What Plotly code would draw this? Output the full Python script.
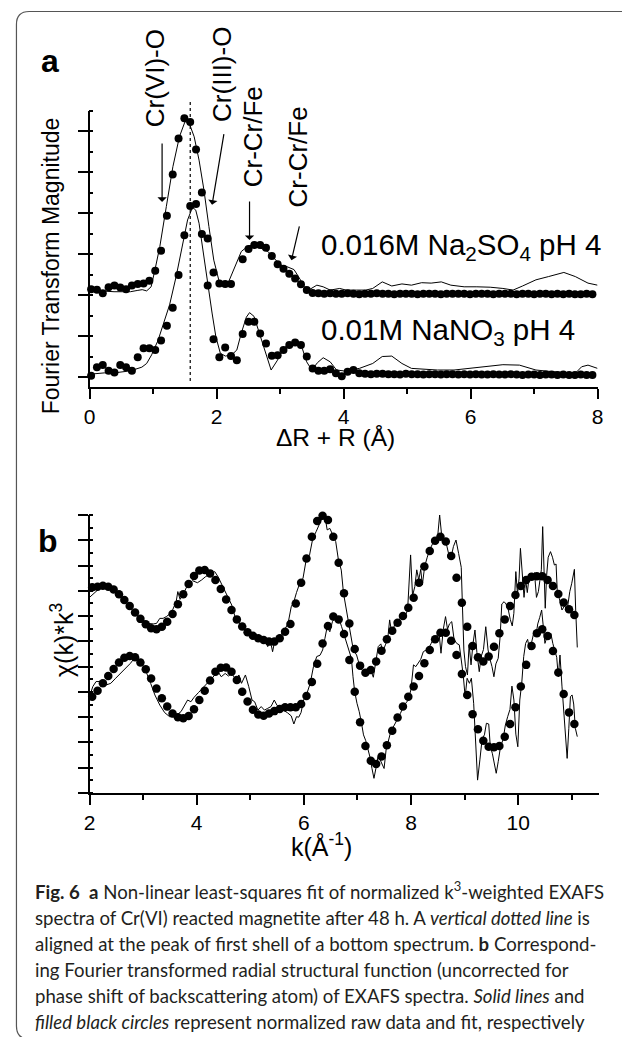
import plotly.graph_objects as go

# the page body keeps its default 8px margin, so the figure is drawn 8px in
# from the window corner; all positions below are window pixels
OFF = 8
W, H = 630 - OFF, 1037 - OFF

# ---- panel a: FT magnitude (arbitrary units, one major y tick per unit) ----
R_FIT_START = 0.025
R_FIT_STEP = 0.0918
FIT_SO4 = [
    2.14, 2.13, 2.04, 2.19, 2.23, 2.18, 2.14, 2.23, 2.27, 2.28,
    2.35, 2.59, 3.08, 3.93, 4.94, 5.82, 6.31, 6.22, 5.55, 4.50,
    3.38, 2.55, 2.28, 2.27, 2.27, None, 2.87, 3.12, 3.22, 3.22,
    3.15, 2.95, 2.75, 2.64, 2.52, 2.40, 2.26, 2.12, 2.05, 2.04,
    2.03, 2.04, 2.03, 2.03, 2.04, 2.03, 2.02, 2.03, 2.03, 2.04,
    2.03, 2.03, 2.02, 2.03, 2.03, 2.03, 2.02, 2.03, 2.03, 2.03,
    2.02, 2.03, 2.03, 2.03, 2.03, 2.02, 2.03, 2.03, 2.03, 2.02,
    2.03, 2.03, 2.03, 2.02, 2.03, 2.03, 2.02, 2.03, 2.03, 2.02,
    2.03, 2.02, 2.03, 2.02, 2.02, 2.03, 2.02, 2.02,
]
FIT_NO3 = [
    0.03, 0.24, 0.29, 0.15, 0.11, 0.29, 0.24, 0.15, 0.48, 0.70,
    0.70, 0.66, 0.89, 1.25, 1.69, 2.49, 3.46, 4.17, 4.22, 3.49,
    2.23, 0.92, 0.48, 0.72, 0.51, 0.41, 1.05, 1.35, 1.35, 1.06,
    0.82, 0.52, 0.53, 0.66, 0.78, 0.84, 0.78, 0.50, 0.21, 0.15,
    0.15, 0.19, 0.09, 0.02, 0.13, 0.17, 0.09, 0.08, 0.07, 0.08,
    0.08, 0.07, 0.07, 0.06, 0.08, 0.07, 0.07, 0.06, 0.07, 0.07,
    0.06, 0.07, 0.07, 0.06, 0.07, 0.06, 0.07, 0.06, 0.06, 0.07,
    0.06, 0.06, 0.07, 0.06, 0.05, 0.06, 0.06, 0.05, 0.06, 0.06,
    0.05, 0.06, 0.05, 0.05, 0.06, 0.05, 0.05, 0.05,
]
RAW_SO4 = [
    (0.026, 2.16), (0.18, 2.10), (0.386, 2.08), (0.55, 2.07), (0.644, 2.08),
    (0.75, 2.11), (0.83, 2.13), (0.9, 2.10), (0.97, 2.20), (1.03, 2.61),
    (1.107, 3.18), (1.21, 4.16), (1.313, 5.13), (1.416, 5.86), (1.504, 6.23),
    (1.57, 6.19), (1.648, 5.86), (1.725, 5.29), (1.802, 4.56), (1.88, 3.67),
    (1.957, 2.85), (2.04, 2.34), (2.11, 2.24), (2.19, 2.32), (2.29, 2.69),
    (2.39, 3.06), (2.50, 3.20), (2.60, 3.22), (2.70, 3.14), (2.81, 3.06),
    (2.91, 2.89), (3.01, 2.73), (3.11, 2.69), (3.22, 2.62), (3.29, 2.45),
    (3.37, 2.24), (3.45, 2.12), (3.50, 2.16), (3.58, 2.24), (3.68, 2.20),
    (3.79, 2.12), (3.94, 2.16), (4.04, 2.12), (4.20, 2.12), (4.35, 2.12),
    (4.46, 2.16), (4.61, 2.32), (4.76, 2.22), (4.92, 2.27), (5.07, 2.24),
    (5.23, 2.30), (5.38, 2.29), (5.54, 2.32), (5.69, 2.24), (5.90, 2.20),
    (6.10, 2.20), (6.31, 2.19), (6.51, 2.16), (6.67, 2.12), (6.82, 2.22),
    (7.03, 2.37), (7.23, 2.45), (7.47, 2.55), (7.65, 2.45), (7.85, 2.29),
    (8.00, 2.24),
]
RAW_NO3 = [
    (0.015, 0.07), (0.232, 0.10), (0.438, 0.11), (0.644, 0.15), (0.824, 0.24),
    (0.9, 0.33), (0.978, 0.54), (1.081, 0.90), (1.158, 1.27), (1.261, 1.76),
    (1.364, 2.45), (1.467, 3.22), (1.544, 3.83), (1.622, 4.14), (1.673, 4.07),
    (1.725, 3.75), (1.776, 3.18), (1.853, 2.37), (1.93, 1.56), (1.99, 0.98),
    (2.06, 0.58), (2.14, 0.51), (2.24, 0.54), (2.32, 0.66), (2.39, 1.07),
    (2.47, 1.46), (2.52, 1.57), (2.59, 1.48), (2.68, 1.06), (2.78, 0.57),
    (2.86, 0.17), (2.96, 0.41), (3.06, 0.70), (3.17, 0.84), (3.26, 0.86),
    (3.35, 0.70), (3.42, 0.37), (3.50, 0.17), (3.59, 0.35), (3.68, 0.47),
    (3.79, 0.37), (3.89, 0.17), (4.00, 0.15), (4.10, 0.17), (4.25, 0.21),
    (4.46, 0.33), (4.61, 0.50), (4.76, 0.51), (4.92, 0.33), (5.07, 0.21),
    (5.28, 0.19), (5.48, 0.17), (5.74, 0.17), (6.00, 0.21), (6.25, 0.25),
    (6.51, 0.30), (6.77, 0.29), (7.03, 0.17), (7.29, 0.13), (7.49, 0.11),
    (7.65, 0.09), (7.75, 0.25), (7.85, 0.29), (8.00, 0.21),
]
PEAK_LINE_R = 1.586

# ---- panel b: chi(k)*k^3 (arbitrary units, one major y tick per unit) ----
K_FIT_START = 2.05
K_FIT_STEP = 0.1
FIT_TOP = [
    8.14, 8.16, 8.20, 8.16, 8.05, 7.86, 7.64, 7.40, 7.14, 6.89,
    6.68, 6.52, 6.48, 6.58, 6.78, 7.08, 7.47, 7.86, 8.27, 8.59,
    8.80, 8.82, 8.69, 8.43, 8.07, 7.66, 7.24, 6.87, 6.59, 6.36,
    6.22, 6.12, 6.05, 5.99, 5.99, 6.12, 6.38, 6.69, 7.50, 8.32,
    9.28, 10.14, 10.76, 10.97, 10.80, 10.14, 9.11, 7.90, 6.71, 5.70,
    5.04, 4.76, 4.87, 5.20, 5.63, 6.08, 6.42, 6.74, 7.00, 7.33,
    7.73, 8.32, 8.96, 9.58, 9.98, 10.14, 9.95, 9.38, 8.52, 7.53,
    6.58, 5.82, 5.37, 5.20, 5.40, 5.79, 6.32, 6.87, 7.40, 7.83,
    8.19, 8.43, 8.56, 8.58, 8.58, 8.43, 8.19, 7.87, 7.54, 7.27,
    7.04,
]
FIT_BOT = [
    3.81, 4.05, 4.34, 4.63, 4.91, 5.16, 5.35, 5.42, 5.37, 5.16,
    4.90, 4.53, 4.13, 3.75, 3.42, 3.15, 3.00, 2.96, 3.05, 3.31,
    3.68, 4.05, 4.45, 4.80, 4.96, 4.97, 4.80, 4.47, 4.01, 3.62,
    3.29, 3.11, 3.06, 3.15, 3.24, 3.32, 3.39, 3.39, 3.39, 3.52,
    3.84, 4.39, 5.11, 5.92, 6.61, 6.98, 6.87, 6.29, 5.26, 4.01,
    2.80, 1.86, 1.28, 1.15, 1.44, 1.89, 2.46, 2.99, 3.42, 3.81,
    4.21, 4.63, 5.13, 5.66, 6.08, 6.34, 6.34, 6.02, 5.46, 4.71,
    3.88, 3.12, 2.52, 2.07, 1.83, 1.81, 1.86, 2.23, 2.73, 3.39,
    4.21, 5.07, 5.82, 6.32, 6.48, 6.21, 5.62, 4.77, 3.92, 3.19,
    2.73,
]
RAW_TOP = [
    (2.0, 7.74), (2.092, 7.93), (2.183, 8.09), (2.305, 8.17), (2.427, 8.10),
    (2.549, 7.93), (2.671, 7.57), (2.763, 7.31), (2.854, 7.08), (2.976, 6.87),
    (3.098, 6.71), (3.19, 6.69), (3.251, 6.71), (3.312, 6.91), (3.373, 6.91),
    (3.434, 6.98), (3.495, 7.08), (3.556, 7.27), (3.617, 7.57), (3.648, 7.97),
    (3.69, 7.66), (3.751, 7.87), (3.83, 8.23), (3.922, 8.40), (4.014, 8.32),
    (4.093, 8.43), (4.166, 8.56), (4.258, 8.67), (4.337, 8.76), (4.398, 8.56),
    (4.471, 8.23), (4.563, 7.83), (4.654, 7.44), (4.715, 6.98), (4.807, 6.69),
    (4.899, 6.48), (4.99, 6.32), (5.082, 6.21), (5.173, 6.12), (5.234, 5.90),
    (5.277, 6.08), (5.326, 5.79), (5.375, 6.03), (5.417, 5.59), (5.46, 6.05),
    (5.521, 6.16), (5.582, 6.29), (5.643, 6.48), (5.704, 6.69), (5.765, 7.37),
    (5.814, 7.57), (5.863, 7.93), (5.924, 8.30), (5.985, 8.50), (6.046, 9.25),
    (6.107, 9.42), (6.168, 10.08), (6.229, 10.34), (6.29, 10.67), (6.351, 10.93),
    (6.394, 10.96), (6.436, 10.41), (6.485, 10.47), (6.534, 10.25), (6.595, 9.95),
    (6.644, 9.25), (6.699, 8.82), (6.741, 7.90), (6.802, 7.11), (6.863, 6.45),
    (6.924, 5.66), (6.985, 5.46), (7.046, 5.00), (7.108, 4.80), (7.156, 4.74),
    (7.205, 4.93), (7.248, 4.87), (7.297, 4.58), (7.339, 5.13), (7.388, 5.79),
    (7.437, 5.90), (7.474, 5.59), (7.522, 5.86), (7.565, 6.08), (7.602, 6.85),
    (7.644, 6.29), (7.693, 6.65), (7.742, 6.69), (7.797, 6.91), (7.846, 7.11),
    (7.889, 6.98), (7.937, 7.24), (7.993, 9.42), (8.029, 7.80), (8.072, 8.17),
    (8.108, 8.83), (8.145, 8.43), (8.182, 8.85), (8.212, 8.23), (8.255, 8.96),
    (8.304, 9.33), (8.352, 9.64), (8.401, 9.85), (8.45, 10.01), (8.499, 10.17),
    (8.535, 11.0), (8.572, 10.21), (8.621, 10.01), (8.67, 9.77), (8.712, 9.38),
    (8.755, 9.38), (8.792, 9.75), (8.84, 10.01), (8.889, 9.48), (8.938, 8.93),
    (8.963, 7.24), (8.987, 5.66), (9.018, 5.00), (9.054, 4.67), (9.085, 5.86),
    (9.121, 5.07), (9.158, 5.92), (9.194, 6.45), (9.231, 5.55), (9.274, 4.80),
    (9.31, 5.40), (9.353, 5.68), (9.396, 6.58), (9.439, 5.66), (9.475, 5.29),
    (9.512, 5.00), (9.548, 4.60), (9.585, 5.11), (9.628, 5.33), (9.664, 6.19),
    (9.695, 7.48), (9.738, 7.57), (9.774, 7.48), (9.817, 7.24), (9.853, 6.87),
    (9.89, 6.61), (9.92, 7.11), (9.957, 8.76), (9.988, 7.87), (10.018, 8.50),
    (10.043, 9.68), (10.073, 8.76), (10.11, 7.74), (10.14, 8.43), (10.171, 7.93),
    (10.213, 8.69), (10.268, 8.43), (10.305, 8.72), (10.342, 7.74), (10.378, 7.97),
    (10.403, 8.36), (10.433, 8.83), (10.458, 10.54), (10.488, 8.83), (10.506, 7.31),
    (10.531, 8.59), (10.561, 9.33), (10.604, 9.55), (10.641, 9.33), (10.677, 9.02),
    (10.708, 9.06), (10.732, 7.90), (10.769, 7.70), (10.818, 7.24), (10.867, 7.40),
    (10.915, 7.24), (10.964, 7.97), (11.001, 8.30), (11.05, 8.85), (11.074, 7.24),
    (11.104, 5.76),
]
RAW_BOT = [
    (2.0, 3.81), (2.061, 4.21), (2.122, 4.41), (2.214, 4.41), (2.305, 4.27),
    (2.397, 4.34), (2.488, 4.54), (2.58, 4.73), (2.671, 4.93), (2.763, 5.13),
    (2.836, 5.33), (2.897, 5.37), (2.958, 5.20), (3.056, 4.80), (3.141, 4.34),
    (3.22, 3.88), (3.312, 3.48), (3.403, 3.18), (3.495, 3.02), (3.587, 3.02),
    (3.708, 3.22), (3.77, 3.48), (3.831, 3.68), (3.892, 3.61), (3.953, 3.79),
    (4.032, 3.97), (4.105, 4.14), (4.178, 4.31), (4.258, 4.47), (4.337, 4.67),
    (4.398, 4.80), (4.459, 4.60), (4.532, 4.73), (4.593, 4.63), (4.654, 4.73),
    (4.727, 4.50), (4.789, 4.67), (4.837, 4.34), (4.91, 4.67), (4.972, 4.21),
    (5.033, 3.68), (5.082, 3.61), (5.143, 3.28), (5.204, 3.42), (5.265, 3.28),
    (5.326, 3.35), (5.387, 3.42), (5.448, 3.68), (5.497, 3.48), (5.558, 3.35),
    (5.619, 3.28), (5.692, 3.18), (5.765, 3.05), (5.814, 2.73), (5.863, 3.02),
    (5.905, 3.00), (5.948, 3.18), (5.997, 3.68), (6.058, 3.94), (6.119, 4.34),
    (6.18, 5.00), (6.241, 5.40), (6.302, 5.45), (6.351, 5.66), (6.394, 6.12),
    (6.436, 6.58), (6.485, 6.38), (6.534, 6.78), (6.595, 6.98), (6.656, 6.91),
    (6.705, 6.58), (6.754, 6.25), (6.802, 5.92), (6.851, 5.59), (6.888, 5.33),
    (6.918, 4.60), (6.949, 4.01), (6.992, 3.55), (7.034, 3.22), (7.077, 2.76),
    (7.114, 2.30), (7.156, 2.07), (7.199, 1.77), (7.236, 1.41), (7.272, 0.97),
    (7.309, 0.58), (7.345, 0.97), (7.382, 1.41), (7.425, 1.31), (7.461, 1.17),
    (7.498, 0.97), (7.535, 1.70), (7.571, 2.03), (7.614, 2.36), (7.657, 2.56),
    (7.705, 2.78), (7.754, 2.95), (7.803, 3.15), (7.852, 3.39), (7.901, 3.55),
    (7.95, 3.68), (7.998, 4.08), (8.047, 5.07), (8.09, 5.00), (8.133, 5.16),
    (8.182, 5.29), (8.23, 5.59), (8.279, 5.66), (8.328, 5.72), (8.377, 5.92),
    (8.426, 6.12), (8.474, 6.19), (8.523, 6.35), (8.56, 5.53), (8.603, 6.48),
    (8.645, 6.98), (8.682, 6.48), (8.718, 6.69), (8.761, 6.78), (8.804, 6.08),
    (8.853, 5.92), (8.902, 5.86), (8.938, 5.33), (8.975, 4.67), (9.011, 3.81),
    (9.048, 4.54), (9.091, 4.34), (9.127, 4.54), (9.17, 3.55), (9.207, 2.23),
    (9.243, 0.51), (9.286, 1.31), (9.329, 2.16), (9.371, 2.30), (9.408, 2.76),
    (9.451, 2.73), (9.481, 1.83), (9.518, 1.57), (9.555, 1.11), (9.591, 0.78),
    (9.628, 1.24), (9.671, 1.83), (9.719, 2.12), (9.762, 2.69), (9.805, 3.02),
    (9.848, 3.31), (9.884, 4.23), (9.921, 3.68), (9.957, 2.33), (9.994, 1.83),
    (10.031, 3.68), (10.067, 4.34), (10.104, 5.40), (10.14, 5.92), (10.177, 6.08),
    (10.213, 5.66), (10.25, 5.95), (10.287, 6.29), (10.33, 6.19), (10.366, 6.69),
    (10.403, 6.95), (10.439, 7.24), (10.47, 6.58), (10.5, 5.92), (10.537, 6.16),
    (10.574, 6.25), (10.61, 6.32), (10.647, 5.92), (10.683, 5.63), (10.72, 5.37),
    (10.75, 4.60), (10.781, 5.46), (10.818, 4.23), (10.854, 3.28), (10.885, 2.36),
    (10.915, 1.37), (10.946, 2.56), (10.976, 3.81), (11.007, 3.88), (11.037, 3.52),
    (11.068, 2.56), (11.104, 2.23),
]

CAPTION = [
    "<b>Fig. 6</b>\u2002<b>a</b> Non-linear least-squares fit of normalized k<sup>3</sup>-weighted EXAFS",
    "spectra of Cr(VI) reacted magnetite after 48 h. A <i>vertical dotted line</i> is",
    "aligned at the peak of first shell of a bottom spectrum. <b>b</b> Correspond-",
    "ing Fourier transformed radial structural function (uncorrected for",
    "phase shift of backscattering atom) of EXAFS spectra. <i>Solid lines</i> and",
    "<i>filled black circles</i> represent normalized raw data and fit, respectively",
]

FONT = "Liberation Sans"


def px(x):
    return (x - OFF) / W


def py(y):
    return 1 - (y - OFF) / H


def unzip(pairs):
    return [p[0] for p in pairs], [p[1] for p in pairs]


r_grid = [R_FIT_START + R_FIT_STEP * i for i in range(len(FIT_SO4))]
k_grid = [K_FIT_START + K_FIT_STEP * i for i in range(len(FIT_TOP))]

fig = go.Figure()

line_style = dict(color="black", width=1)
for pairs, ax in [(RAW_SO4, ("x", "y")), (RAW_NO3, ("x", "y")),
                  (RAW_TOP, ("x2", "y2")), (RAW_BOT, ("x2", "y2"))]:
    xs, ys = unzip(pairs)
    fig.add_trace(go.Scatter(x=xs, y=ys, mode="lines", line=line_style,
                             xaxis=ax[0], yaxis=ax[1], showlegend=False))

for xs, ys, ax, size in [(r_grid, FIT_SO4, ("x", "y"), 8),
                         (r_grid, FIT_NO3, ("x", "y"), 8),
                         (k_grid, FIT_TOP, ("x2", "y2"), 8.5),
                         (k_grid, FIT_BOT, ("x2", "y2"), 8.5)]:
    fig.add_trace(go.Scatter(x=xs, y=ys, mode="markers",
                             marker=dict(color="black", size=size),
                             cliponaxis=False,
                             xaxis=ax[0], yaxis=ax[1], showlegend=False))

axis_base = dict(showline=True, linecolor="black", linewidth=1.5,
                 ticks="outside", ticklen=10, tickwidth=1.5, tickcolor="black",
                 showgrid=False, zeroline=False,
                 tickfont=dict(family=FONT, size=21, color="black"))
y_minor = dict(ticks="inside", ticklen=4, tickwidth=1.5, tickcolor="black")
x_minor = dict(ticks="outside", ticklen=5, tickwidth=1.5, tickcolor="black", dtick=1)

fig.update_layout(
    width=W, height=H,
    margin=dict(l=0, r=0, t=0, b=0),
    paper_bgcolor="white", plot_bgcolor="white",
    font=dict(family=FONT, color="black"),
    xaxis=dict(axis_base, domain=[px(85), px(603)], anchor="y",
               range=[0, 8], tick0=0, dtick=2, minor=x_minor),
    yaxis=dict(axis_base, domain=[py(387), py(110.5)], anchor="x",
               range=[-0.244, 6.5], tick0=0, dtick=1, showticklabels=False,
               minor=dict(y_minor, dtick=0.5)),
    xaxis2=dict(axis_base, domain=[px(85), px(604)], anchor="y2",
                range=[2, 11.5], tick0=2, dtick=2, minor=x_minor),
    yaxis2=dict(axis_base, domain=[py(793), py(515)], anchor="x2",
                range=[0, 11], tick0=0, dtick=1, showticklabels=False,
                minor=dict(y_minor, dtick=0.5)),
)

shapes = [
    # dotted line through the first-shell peak of the bottom spectrum
    dict(type="line", xref="x domain", yref="paper",
         x0=PEAK_LINE_R / 8, x1=PEAK_LINE_R / 8, y0=py(381), y1=py(100),
         line=dict(color="black", width=1.2, dash="dot")),
]
L, T, R, B, rad = 10.5, 11.5, 660, 1039, 13
shapes.append(dict(
    type="path", xref="paper", yref="paper",
    path=(f"M {px(L)},{py(T + rad)} Q {px(L)},{py(T)} {px(L + rad)},{py(T)} "
          f"L {px(R)},{py(T)} L {px(R)},{py(B)} L {px(L + rad)},{py(B)} "
          f"Q {px(L)},{py(B)} {px(L)},{py(B - rad)} Z"),
    line=dict(color="#555555", width=1.2)))
fig.update_layout(shapes=shapes)

ann = []


def text(t, x, y, size, xanchor="center", yanchor="middle", angle=0, **kw):
    ann.append(dict(text=t, x=px(x), y=py(y), xref="paper", yref="paper",
                    showarrow=False, xanchor=xanchor, yanchor=yanchor,
                    textangle=angle, font=dict(family=kw.pop("family", FONT),
                                               size=size, color=kw.pop("color", "black")),
                    align=kw.pop("align", "center"), **kw))


def arrow(x_tip, y_tip, x_tail, y_tail):
    ann.append(dict(text="", x=x_tip, y=y_tip, ax=x_tail, ay=y_tail,
                    xref="x", yref="y", axref="x", ayref="y",
                    showarrow=True, arrowhead=1, arrowsize=1.3, arrowwidth=1.2,
                    arrowcolor="black"))


# panel letters
text("<b>a</b>", 44.5, 41, 32, yanchor="top")
text("<b>b</b>", 43, 521, 32, yanchor="top")

# peak labels (rotated) and arrows
text("Cr(VI)-O", 152, 78, 26, angle=-90)
text("Cr(III)-O", 220, 74, 26, angle=-90)
text("Cr-Cr/Fe", 252, 137, 26, angle=-90)
text("Cr-Cr/Fe", 298, 157, 26, angle=-90)
arrow(1.143, 4.27, 1.143, 5.73)
arrow(1.93, 4.20, 2.12, 5.96)
arrow(2.52, 3.34, 2.52, 4.32)
arrow(3.18, 2.85, 3.31, 3.71)

# sample labels
text("0.016M Na<sub>2</sub>SO<sub>4</sub> pH 4", 319, 226, 29.5, xanchor="left", yanchor="top")
text("0.01M NaNO<sub>3</sub> pH 4", 319, 311, 29.5, xanchor="left", yanchor="top")

# axis titles
text("Fourier Transform Magnitude", 46, 266, 23, angle=-90)
text("\u0394R + R (\u00c5)", 336, 453, 24.5, yanchor="bottom")
text("\u03c7(k)*k<sup>3</sup>", 57, 640, 25, angle=-90)
text("k(\u00c5<sup>-1</sup>)", 322, 863, 25, yanchor="bottom")

# caption, one line per annotation (bottom anchor sits just under the baseline)
for i, line in enumerate(CAPTION):
    text(line, 27, 900 + 26 * i + 5, 18.6, xanchor="left", yanchor="bottom",
         align="left", family="Lato", color="#231f20")

fig.update_layout(annotations=ann)
fig.write_html("out.html")
